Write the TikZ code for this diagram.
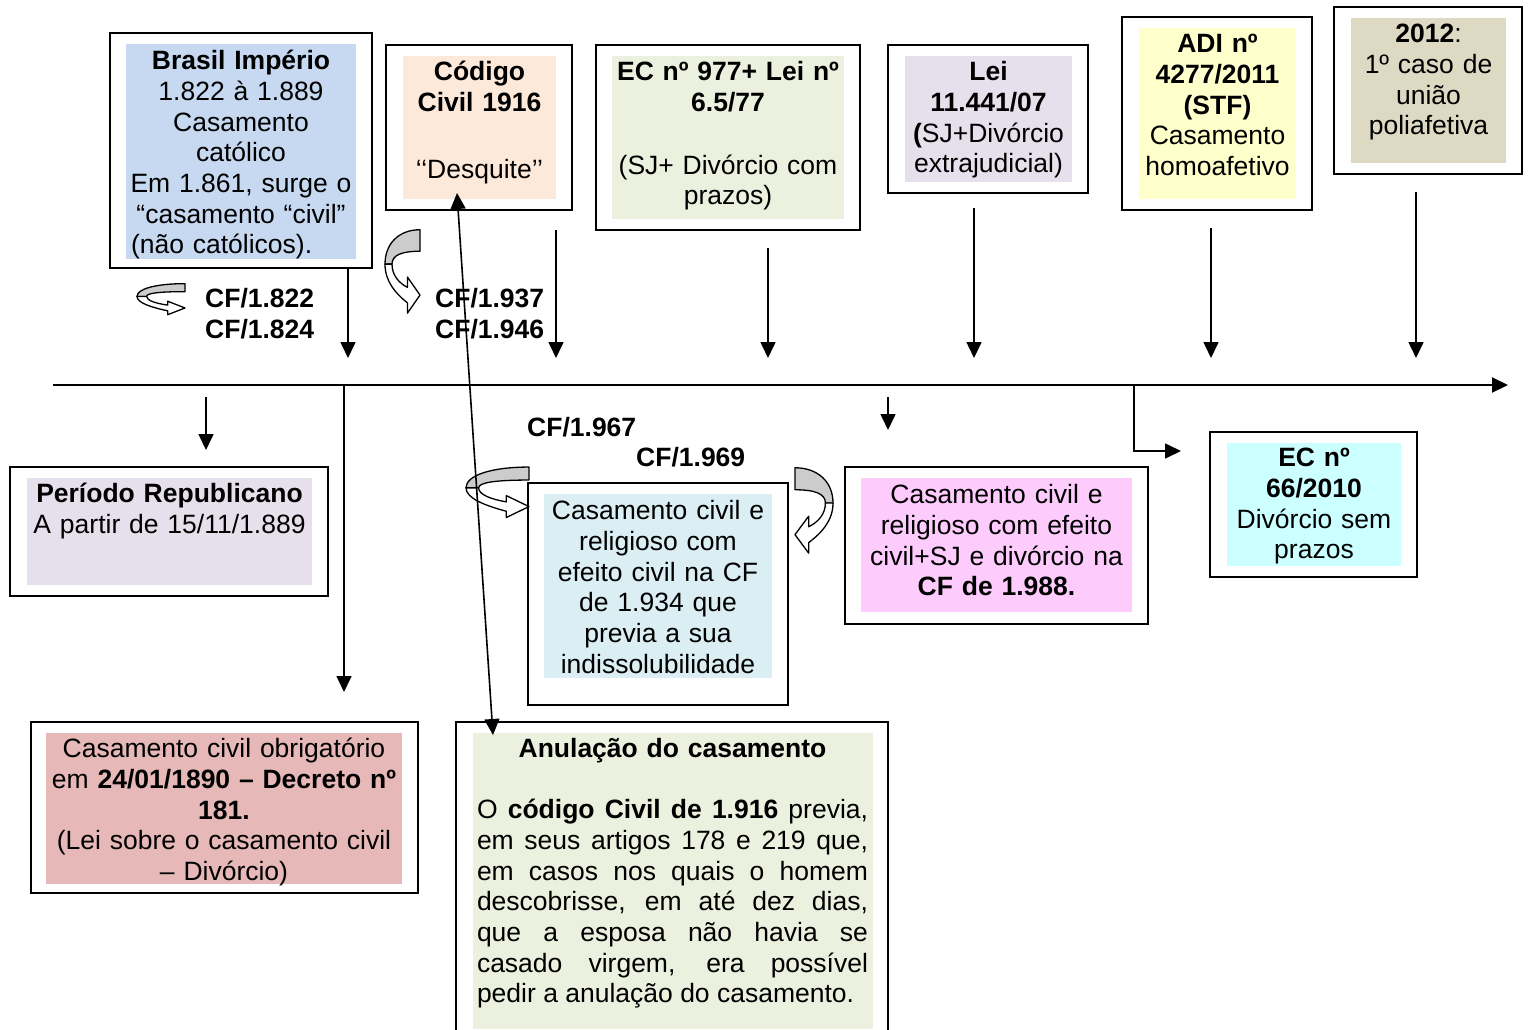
\documentclass[tikz,border=0pt]{standalone}
\usepackage{fontspec}
\setmainfont{Liberation Sans}
\usetikzlibrary{arrows.meta,fit}
\definecolor{cBlue}{HTML}{C6D9F1}
\definecolor{cPeach}{HTML}{FDE9D9}
\definecolor{cGreen}{HTML}{EBF1DE}
\definecolor{cLav}{HTML}{E5E0EC}
\definecolor{cYel}{HTML}{FFFFCC}
\definecolor{cKhaki}{HTML}{DDD9C3}
\definecolor{cRose}{HTML}{E6B9B8}
\definecolor{cCyanL}{HTML}{DAEEF3}
\definecolor{cPink}{HTML}{FDCCFD}
\definecolor{cCyanB}{HTML}{CCFFFF}
\newcommand\myTS{\rule{0pt}{24pt}}
\newcommand\curvedarr[4]{%
 \begin{scope}[shift={(#1,#2)}, xscale=#3, yscale=#4, line width=1.3pt, line join=round]
  \filldraw[fill=gray!40] (1,0.02) .. controls (0.4,0.02) and (0,0.18) .. (0,0.42) -- (0.2,0.42) .. controls (0.2,0.32) and (0.45,0.27) .. (1,0.27) -- cycle;
  \filldraw[fill=white] (0,0.42) .. controls (0,0.62) and (0.3,0.76) .. (0.64,0.87) -- (0.64,0.99) -- (1,0.78) -- (0.64,0.57) -- (0.64,0.69) .. controls (0.4,0.64) and (0.2,0.55) .. (0.2,0.42) -- cycle;
 \end{scope}}
\tikzset{
  obox/.style={draw, line width=1.6pt, inner sep=0pt},
  txt/.style={font=\fontsize{26.5}{30.7}\selectfont, align=center, inner sep=0pt, anchor=north},
  lbl/.style={font=\fontsize{26.5}{30.7}\selectfont\bfseries, inner sep=0pt, anchor=base west},
  arr/.style={line width=1.6pt, -{Triangle[length=16pt,width=15pt]}},
}
\begin{document}
\begin{tikzpicture}[x=1pt,y=-1pt]
\useasboundingbox (0,0) rectangle (1530,1029);
% ---------- fills ----------
\fill[cBlue] (126,44) rectangle (356,259);
\fill[cPeach] (403,56) rectangle (556,199);
\fill[cGreen] (612,56) rectangle (844,219);
\fill[cLav] (905,56) rectangle (1072,182);
\fill[cYel] (1139,28) rectangle (1296,199);
\fill[cKhaki] (1351,18) rectangle (1506,163);
\fill[cLav] (27,478) rectangle (312,585);
\fill[cRose] (46,733) rectangle (402,884);
\fill[cCyanL] (544,494) rectangle (772,678);
\fill[cPink] (861,478) rectangle (1132,612);
\fill[cCyanB] (1227,443) rectangle (1401,566);
\fill[cGreen] (473,733) rectangle (873,1029);
% ---------- outer boxes ----------
\node[obox, fit={(110,33) (372,268)}] (b1) {};
\node[obox, fit={(386,45) (572,210)}] (b2) {};
\node[obox, fit={(596,45) (860,230)}] (b3) {};
\node[obox, fit={(888,45) (1088,193)}] (b4) {};
\node[obox, fit={(1122,17) (1312,210)}] (b5) {};
\node[obox, fit={(1334,7) (1522,174)}] (b6) {};
\node[obox, fit={(10,467) (328,596)}] (r1) {};
\node[obox, fit={(31,722) (418,893)}] (r2) {};
\node[obox, fit={(528,483) (788,705)}] (r3) {};
\node[obox, fit={(845,467) (1148,624)}] (r4) {};
\node[obox, fit={(1210,432) (1417,577)}] (r5) {};
\node[obox, fit={(456,722) (888,1045)}] (r6) {};
% ---------- texts ----------
\node[txt, text width=236pt] (tb1) at (241,45.5) {\myTS\textbf{Brasil Império}\\1.822 à 1.889\\Casamento\\católico\\Em 1.861, surge o\\“casamento “civil”\\\makebox[236pt][l]{\hspace{8pt}(não católicos).}};
\node[txt, text width=170pt] (tb2) at (479.5,56.5) {\myTS\textbf{Código}\\\textbf{Civil 1916}\\[36pt]‘‘Desquite’’};
\node[txt, text width=250pt] (tb3) at (728,56.5) {\myTS\textbf{EC nº 977+ Lei nº}\\\textbf{6.5/77}\\[32pt](SJ+ Divórcio com\\prazos)};
\node[txt, text width=190pt] (tb4) at (988.5,56.5) {\myTS\textbf{Lei}\\\textbf{11.441/07}\\\textbf{(}SJ+Divórcio\\extrajudicial)};
\node[txt, text width=180pt] (tb5) at (1217.5,28.5) {\myTS\textbf{ADI nº}\\\textbf{4277/2011}\\\textbf{(STF)}\\Casamento\\homoafetivo};
\node[txt, text width=175pt] (tb6) at (1428.5,18.5) {\myTS\textbf{2012}:\\1º caso de\\união\\poliafetiva};
\node[txt, text width=300pt] (tr1) at (169.5,478.5) {\myTS\textbf{Período Republicano}\\A partir de 15/11/1.889};
\node[txt, text width=380pt] (tr2) at (224,733.5) {\myTS Casamento civil obrigatório\\em \textbf{24/01/1890 – Decreto nº}\\\textbf{181.}\\(Lei sobre o casamento civil\\– Divórcio)};
\node[txt, text width=260pt] (tr3) at (658,495.5) {\myTS Casamento civil e\\religioso com\\efeito civil na CF\\de 1.934 que\\previa a sua\\indissolubilidade};
\node[txt, text width=310pt] (tr4) at (996.5,479.5) {\myTS Casamento civil e\\religioso com efeito\\civil+SJ e divórcio na\\\textbf{CF de 1.988.}};
\node[txt, text width=190pt] (tr5) at (1314,442.5) {\myTS\textbf{EC nº}\\\textbf{66/2010}\\Divórcio sem\\prazos};
\node[txt, text width=400pt] (tr6h) at (672.5,733.5) {\myTS\textbf{Anulação do casamento}};
\node[txt, text width=391pt, align=justify] (tr6) at (672.5,794.5) {\myTS O \textbf{código Civil de 1.916} previa,\linebreak
em seus artigos 178 e 219 que,\linebreak
em casos nos quais o homem\linebreak
descobrisse, em até dez dias,\linebreak
que a esposa não havia se\linebreak
casado virgem, era possível\linebreak
pedir a anulação do casamento.};
% ---------- CF labels ----------
\node[lbl] (cf1) at (205,307.5) {CF/1.822};
\node[lbl] (cf2) at (205,338.5) {CF/1.824};
\node[lbl] (cf3) at (435,307.5) {CF/1.937};
\node[lbl] (cf4) at (435,338.5) {CF/1.946};
\node[lbl] (cf5) at (527,436.5) {CF/1.967};
\node[lbl] (cf6) at (636,466.5) {CF/1.969};
% ---------- curved arrows ----------
\curvedarr{137}{283}{48}{32}
\curvedarr{385}{228}{35}{86}
\curvedarr{466}{466}{63}{52}
\curvedarr{833}{466}{-38}{88}
% ---------- timeline ----------
\coordinate (t0) at (53,385);
\coordinate (t1) at (1508,385);
\draw[arr, line width=2pt] (t0) -- (t1);
% ---------- arrows above ----------
\coordinate (a1) at (348,358);
\coordinate (a2s) at (556,230); \coordinate (a2) at (556,358);
\coordinate (a3s) at (768,248); \coordinate (a3) at (768,358);
\coordinate (a4s) at (974,208); \coordinate (a4) at (974,358);
\coordinate (a5s) at (1211,228); \coordinate (a5) at (1211,358);
\coordinate (a6s) at (1416,192); \coordinate (a6) at (1416,358);
\draw[arr] (b1.south -| a1) -- (a1);
\draw[arr] (a2s) -- (a2);
\draw[arr] (a3s) -- (a3);
\draw[arr] (a4s) -- (a4);
\draw[arr] (a5s) -- (a5);
\draw[arr] (a6s) -- (a6);
% ---------- arrows below ----------
\coordinate (d1s) at (206,397); \coordinate (d1) at (206,450);
\coordinate (d2s) at (344,385); \coordinate (d2) at (344,692);
\coordinate (d4s) at (888,397); \coordinate (d4) at (888,430);
\coordinate (e1s) at (1134,385); \coordinate (e1) at (1181,451);
\draw[arr] (d1s) -- (d1);
\draw[arr] (d2s) -- (d2);
\draw[arr] (d4s) -- (d4);
\draw[arr] (e1s) |- (e1);
% ---------- Desquite to Anulacao ----------
\coordinate (q1) at (457,193);
\coordinate (q2) at (493,735);
\draw[line width=1.6pt, {Triangle[length=16pt,width=15pt]}-{Triangle[length=16pt,width=15pt]}] (q1) -- (q2);
\end{tikzpicture}
\end{document}
